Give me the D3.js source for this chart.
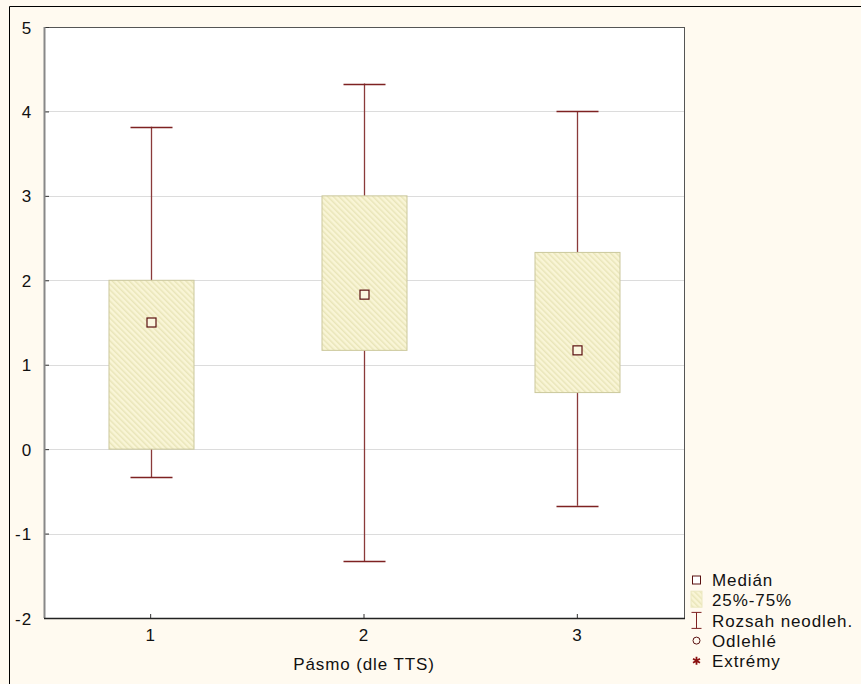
<!DOCTYPE html>
<html><head><meta charset="utf-8">
<script src="https://cdn.jsdelivr.net/npm/d3@7"></script>
<style>body{margin:0;background:#fffaf0;}svg{display:block;font-family:Arial,"Liberation Sans",sans-serif;}</style>
</head><body><svg id="c" width="861" height="684"></svg>
<script>
const categories = ["1","2","3"];
const medians = [1.5, 1.83, 1.17];
const q1 = [0, 1.17, 0.67];
const q3 = [2, 3, 2.33];
const whiskerMin = [-0.33, -1.33, -0.67];
const whiskerMax = [3.82, 4.33, 4.0];
const yTicks = [-2,-1,0,1,2,3,4,5];
const legendLabels = ["Medián","25%-75%","Rozsah neodleh.","Odlehlé","Extrémy"];
const xTitle = "Pásmo (dle TTS)";

const svg = d3.select("#c");
const L=44, R=684, T=27, B=618;
const dark = "#7e2222";
const FS = 17, LS = "0.9px";
const FF = "Arial,'Liberation Sans',sans-serif";

svg.append("rect").attr("x",0).attr("y",0).attr("width",861).attr("height",684).attr("fill","#fffaf0");
svg.append("line").attr("x1",9.5).attr("x2",861).attr("y1",6.5).attr("y2",6.5).attr("stroke","#000");
svg.append("line").attr("x1",9.5).attr("x2",9.5).attr("y1",6.5).attr("y2",684).attr("stroke","#000");

const defs = svg.append("defs");
const pat = defs.append("pattern").attr("id","hatch").attr("patternUnits","userSpaceOnUse")
  .attr("width",4).attr("height",4).attr("patternTransform","rotate(-45)");
pat.append("rect").attr("width",4).attr("height",4).attr("fill","#f9f5d6");
pat.append("rect").attr("width",1.5).attr("height",4).attr("fill","#e9e5b9");

const x = d3.scaleBand().domain(categories).range([L,R]).paddingInner(0).paddingOuter(0);
const y = d3.scaleLinear().domain([-2,5]).range([B,T]);
const cx = c => x(c) + x.bandwidth()/2;

svg.append("rect").attr("x",L).attr("y",T).attr("width",R-L).attr("height",B-T).attr("fill","#fff");

svg.append("g").selectAll("line").data(yTicks.filter(t=>t>-2&&t<5)).join("line")
  .attr("x1",L).attr("x2",R).attr("y1",d=>Math.round(y(d))+0.5).attr("y2",d=>Math.round(y(d))+0.5)
  .attr("stroke","#dcdcdc");

svg.append("line").attr("x1",L).attr("x2",R).attr("y1",T+0.5).attr("y2",T+0.5).attr("stroke","#555");
svg.append("line").attr("x1",R+0.5).attr("x2",R+0.5).attr("y1",T).attr("y2",B).attr("stroke","#555");

const bw = 85, cw = 42;
const g = svg.append("g");
categories.forEach((c,i)=>{
  const xc = Math.round(cx(c))+0.5;
  g.append("line").attr("x1",xc).attr("x2",xc).attr("y1",y(whiskerMax[i])).attr("y2",y(whiskerMin[i])).attr("stroke","#8a3a3a").attr("stroke-width",1.3);
  [whiskerMax[i],whiskerMin[i]].forEach(v=>{
    g.append("line").attr("x1",xc-cw/2).attr("x2",xc+cw/2).attr("y1",Math.round(y(v))+0.5).attr("y2",Math.round(y(v))+0.5).attr("stroke",dark).attr("stroke-width",1.3);
  });
  g.append("rect").attr("x",xc-bw/2).attr("width",bw).attr("y",y(q3[i])).attr("height",y(q1[i])-y(q3[i]))
    .attr("fill","url(#hatch)").attr("stroke","#cbc89c").attr("stroke-width",1);
  g.append("rect").attr("x",xc-4.5).attr("y",y(medians[i])-4.5).attr("width",9).attr("height",9)
    .attr("fill","#fbf7e0").attr("stroke","#5a1010").attr("stroke-width",1.2);
});

const ya = svg.append("g").attr("transform",`translate(${L},0)`)
  .call(d3.axisLeft(y).tickValues(yTicks).tickSize(-5).tickPadding(12).tickFormat(d=>String(d)));
ya.select(".domain").remove();
ya.selectAll("line").attr("stroke","#333");
ya.selectAll("text").attr("font-size",FS).attr("fill","#111").attr("font-family",FF).attr("letter-spacing",LS).attr("dy","0.36em");
svg.append("line").attr("x1",L+0.5).attr("x2",L+0.5).attr("y1",T).attr("y2",B).attr("stroke","#888").attr("stroke-width",2);

const xa = svg.append("g").attr("transform",`translate(0,${B})`)
  .call(d3.axisBottom(x).tickSize(-4).tickPadding(11));
xa.select(".domain").remove();
xa.selectAll("line").attr("stroke","#333");
xa.selectAll("text").attr("font-size",FS).attr("fill","#111").attr("font-family",FF).attr("letter-spacing",LS);
svg.append("line").attr("x1",L).attr("x2",R+1).attr("y1",B+0.5).attr("y2",B+0.5).attr("stroke","#222").attr("stroke-width",1.3);

svg.append("text").attr("x",(L+R)/2).attr("y",664).attr("dy","0.36em").attr("text-anchor","middle")
  .attr("font-size",FS).attr("letter-spacing",LS).attr("fill","#111").text(xTitle);

const ly0 = 580, ldy = 20.2, lx = 696.5, tx = 712;
const lg = svg.append("g").attr("font-size",FS).attr("letter-spacing",LS).attr("fill","#111");
legendLabels.forEach((t,i)=>{
  lg.append("text").attr("x",tx).attr("y",ly0+i*ldy).attr("dy","0.36em").text(t);
});
lg.append("rect").attr("x",lx-4).attr("y",ly0-4).attr("width",8).attr("height",8).attr("fill","#fff").attr("stroke","#5a1010");
lg.append("rect").attr("x",lx-5.5).attr("y",ly0+ldy-9).attr("width",11).attr("height",16).attr("fill","url(#hatch)").attr("stroke","#ece8c0");
const wy = ly0+2*ldy;
lg.append("line").attr("x1",lx).attr("x2",lx).attr("y1",wy-8).attr("y2",wy+8).attr("stroke",dark);
lg.append("line").attr("x1",lx-5).attr("x2",lx+5).attr("y1",wy-8).attr("y2",wy-8).attr("stroke",dark);
lg.append("line").attr("x1",lx-5).attr("x2",lx+5).attr("y1",wy+8).attr("y2",wy+8).attr("stroke",dark);
lg.append("circle").attr("cx",lx).attr("cy",ly0+3*ldy).attr("r",3.5).attr("fill","none").attr("stroke","#5a1010");
lg.append("path").attr("d",d3.symbol(d3.symbolAsterisk,45)()).attr("transform",`translate(${lx},${ly0+4*ldy})`).attr("stroke","#8b1010").attr("stroke-width",1.8).attr("fill","none");
</script></body></html>
